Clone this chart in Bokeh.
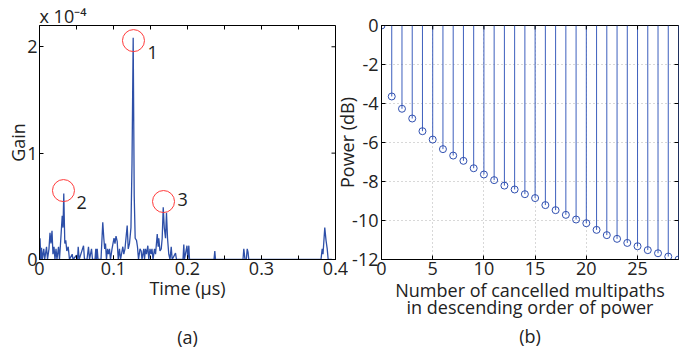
import math
from bokeh.plotting import figure
from bokeh.layouts import row
from bokeh.models import Label, SingleIntervalTicker, FixedTicker, Range1d, Title
from bokeh.embed import file_html
from bokeh.resources import INLINE

FONT = "Open Sans"

# ---------------- panel (a): channel impulse response ----------------
time_us = [0.0, 0.0007, 0.0018, 0.0027, 0.0038, 0.0058, 0.0070, 0.0095, 0.0108, 0.0128,
           0.0142, 0.0155, 0.0169, 0.0182, 0.0196, 0.0209, 0.0223, 0.0236, 0.0257, 0.0270,
           0.0284, 0.0307, 0.0318, 0.0328, 0.0342, 0.0355, 0.0369, 0.0388, 0.0405, 0.0442,
           0.0453, 0.0500, 0.0514, 0.0523, 0.0536, 0.0595, 0.0608, 0.0642, 0.0662, 0.0676,
           0.0703, 0.0716, 0.0750, 0.0761, 0.0770, 0.0780, 0.0791, 0.0831, 0.0855, 0.0869,
           0.0881, 0.0892, 0.0905, 0.0919, 0.0932, 0.0946, 0.0959, 0.0980, 0.0993, 0.1007,
           0.1020, 0.1034, 0.1050, 0.1064, 0.1081, 0.1095, 0.1126, 0.1139, 0.1155, 0.1185,
           0.1199, 0.1216, 0.1236, 0.1250, 0.1266, 0.1280, 0.1293, 0.1311, 0.1324, 0.1338,
           0.1358, 0.1374, 0.1385, 0.1409, 0.1419, 0.1432, 0.1446, 0.1464, 0.1477, 0.1493,
           0.1507, 0.1520, 0.1534, 0.1554, 0.1568, 0.1591, 0.1604, 0.1612, 0.1628, 0.1645,
           0.1658, 0.1672, 0.1686, 0.1703, 0.1716, 0.1730, 0.1747, 0.1764, 0.1780, 0.1793,
           0.1838, 0.1851, 0.1939, 0.1950, 0.1959, 0.1993, 0.2004, 0.2018, 0.2027, 0.2358,
           0.2369, 0.2378, 0.2750, 0.2761, 0.2777, 0.2795, 0.2807, 0.2818, 0.2828, 0.3804,
           0.3820, 0.3831, 0.3855, 0.3872, 0.3888, 0.3901, 0.3950]
gain_e4 = [0.0, 0.20, 0.0, 0.11, 0.0, 0.10, 0.0, 0.12, 0.0, 0.10,
           0.25, 0.15, 0.27, 0.05, 0.12, 0.0, 0.10, 0.0, 0.12, 0.0,
           0.15, 0.41, 0.30, 0.62, 0.15, 0.18, 0.08, 0.12, 0.0, 0.05,
           0.0, 0.04, 0.0, 0.12, 0.0, 0.13, 0.0, 0.0, 0.12, 0.0,
           0.10, 0.0, 0.0, 0.10, 0.0, 0.10, 0.0, 0.0, 0.35, 0.20,
           0.10, 0.15, 0.0, 0.10, 0.05, 0.10, 0.0, 0.10, 0.15, 0.20,
           0.15, 0.22, 0.17, 0.0, 0.10, 0.0, 0.12, 0.05, 0.10, 0.32,
           0.10, 0.15, 0.30, 0.90, 2.085, 0.60, 0.20, 0.18, 0.12, 0.0,
           0.10, 0.08, 0.0, 0.10, 0.0, 0.10, 0.05, 0.13, 0.0, 0.10,
           0.05, 0.10, 0.0, 0.10, 0.05, 0.24, 0.12, 0.20, 0.08, 0.10,
           0.20, 0.49, 0.30, 0.20, 0.44, 0.20, 0.05, 0.0, 0.12, 0.0,
           0.06, 0.0, 0.0, 0.14, 0.0, 0.13, 0.0, 0.13, 0.0, 0.0,
           0.08, 0.0, 0.0, 0.10, 0.0, 0.0, 0.10, 0.07, 0.0, 0.0,
           0.10, 0.05, 0.30, 0.18, 0.10, 0.0, 0.0]

ring_t = [0.127, 0.0324, 0.1676]
ring_g = [2.058, 0.648, 0.545]
ring_text = ["1", "2", "3"]
ring_text_t = [0.146, 0.050, 0.1865]
ring_text_g = [1.946, 0.536, 0.566]

time_max = 0.4
gain_max = 2.2
time_tick_marks = [0.0, 0.05, 0.1, 0.15, 0.2, 0.25, 0.3, 0.35, 0.4]
gain_ticks = [0, 1, 2]

# ---------------- panel (b): residual power ----------------
n_cancelled = list(range(30))
power_db = [0.0, -3.64, -4.27, -4.77, -5.42, -5.85, -6.34, -6.67, -6.94, -7.32,
            -7.64, -7.93, -8.21, -8.41, -8.65, -8.85, -9.21, -9.47, -9.71, -9.95,
            -10.14, -10.48, -10.75, -10.94, -11.15, -11.32, -11.52, -11.68, -11.85, -12.0]
stem_base = [0.0] * len(n_cancelled)
n_max = 29
db_max = 0
n_ticks = [0, 5, 10, 15, 20, 25]
db_ticks = [0, -2, -4, -6, -8, -10, -12]
db_tick_text = {t: ("%d" % t) for t in db_ticks}

LINE = "#2d4fa8"
TXT = "#222222"


def style_axis(ax, minor_in=0):
    ax.axis_line_color = "black"
    ax.axis_line_width = 1
    ax.major_tick_line_color = "black"
    ax.minor_tick_line_color = "black"
    ax.major_tick_in = 4
    ax.major_tick_out = 0
    ax.minor_tick_in = minor_in
    ax.minor_tick_out = 0
    ax.major_label_standoff = 2
    ax.major_label_text_font = FONT
    ax.major_label_text_color = TXT
    ax.major_label_text_font_size = "18px"
    ax.axis_label_text_font = FONT
    ax.axis_label_text_font_size = "18px"
    ax.axis_label_text_font_style = "normal"
    ax.axis_label_text_color = TXT


def box_ticks(p, xs, x_edge, ys, y_edge):
    # inward tick marks on the top and right edges of the box (half of each dash is clipped)
    p.scatter(xs, [y_edge] * len(xs), marker="dash", angle=math.pi / 2, size=8,
              line_color="black", line_width=1)
    p.scatter([x_edge] * len(ys), ys, marker="dash", size=8,
              line_color="black", line_width=1)


# ---------- figure (a) ----------
p1 = figure(frame_width=296, frame_height=234,
            min_border_left=39, min_border_right=13, min_border_top=25, min_border_bottom=88,
            x_range=Range1d(0, time_max), y_range=Range1d(0, gain_max),
            output_backend="svg", toolbar_location=None)
p1.grid.visible = False
p1.outline_line_color = "black"
p1.background_fill_color = "white"
p1.border_fill_color = "white"

p1.xaxis.ticker = SingleIntervalTicker(interval=0.1, num_minor_ticks=2)
p1.yaxis.ticker = SingleIntervalTicker(interval=1, num_minor_ticks=0)
style_axis(p1.xaxis[0], minor_in=4)
style_axis(p1.yaxis[0])
p1.xaxis.axis_label = "Time (\u03bcs)\n(a)"
p1.xaxis.axis_label_standoff = -2
p1.xaxis.axis_label_text_line_height = 2.05
p1.yaxis.axis_label = "Gain"
p1.yaxis.axis_label_standoff = -6
p1.add_layout(Title(text="x 10\u207b\u2074", align="left", text_font=FONT, text_font_size="18px",
                    text_font_style="normal", text_color=TXT, standoff=-4), "above")

p1.line(time_us, gain_e4, line_color=LINE, line_width=1.3)
p1.scatter(ring_t, ring_g, marker="circle", size=22, fill_color=None,
           line_color="#ff3b3b", line_width=1)
for tx, ty, s in zip(ring_text_t, ring_text_g, ring_text):
    p1.add_layout(Label(x=tx, y=ty, text=s, text_font=FONT, text_font_size="18px",
                        text_color=TXT, text_baseline="alphabetic"))
box_ticks(p1, time_tick_marks, time_max, gain_ticks, gain_max)

# ---------- figure (b) ----------
p2 = figure(frame_width=297, frame_height=234,
            min_border_left=60, min_border_right=8, min_border_top=25, min_border_bottom=88,
            x_range=Range1d(0, n_max), y_range=Range1d(-12, db_max),
            output_backend="svg", toolbar_location=None)
p2.margin = (0, 0, 0, -27)
p2.outline_line_color = "black"
p2.background_fill_color = "white"
p2.border_fill_color = None
p2.xaxis.ticker = FixedTicker(ticks=n_ticks)
p2.yaxis.ticker = FixedTicker(ticks=db_ticks)
style_axis(p2.xaxis[0])
style_axis(p2.yaxis[0])
p2.yaxis.major_label_overrides = db_tick_text
p2.yaxis.major_label_standoff = 3
p2.yaxis.axis_label = "Power (dB)"
p2.yaxis.axis_label_standoff = -10
p2.xaxis.axis_label = "Number of cancelled multipaths\nin descending order of power"
p2.xaxis.axis_label_standoff = 0
p2.xaxis.axis_label_text_line_height = 0.73
p2.add_layout(Title(text="(b)", align="center", text_font=FONT, text_font_size="18px",
                    text_font_style="normal", text_color=TXT, standoff=-2), "below")

p2.xgrid.ticker = FixedTicker(ticks=n_ticks[1:])
p2.ygrid.ticker = FixedTicker(ticks=db_ticks[1:-1])
p2.grid.grid_line_color = "#b0b0b0"
p2.grid.grid_line_dash = "1 3"
p2.grid.grid_line_width = 1

p2.segment(x0=n_cancelled, y0=stem_base, x1=n_cancelled, y1=power_db,
           line_color="#3d5fbd", line_width=1)
p2.scatter(n_cancelled, power_db, marker="circle", size=7, fill_color=None,
           line_color="#2f4fb0", line_width=1)
box_ticks(p2, n_ticks, n_max, db_ticks, db_max)

layout = row(p1, p2)
open("out.html", "w").write(file_html(layout, INLINE))
